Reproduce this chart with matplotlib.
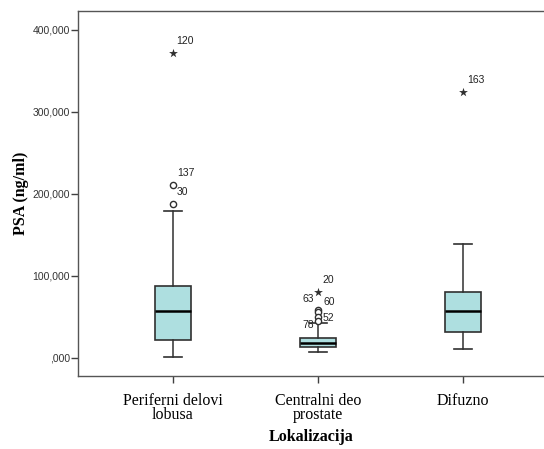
import numpy as np
import matplotlib
matplotlib.use("Agg")
import matplotlib.pyplot as plt
from matplotlib.ticker import FuncFormatter

# data (PSA, ng/ml)
categories = ["Periferni delovi\nlobusa", "Centralni deo\nprostate", "Difuzno"]
q1 = [21900, 13000, 31700]
median = [57200, 18600, 57200]
q3 = [87700, 24700, 80400]
whislo = [1000, 7000, 11000]
whishi = [179000, 43000, 138900]

# outliers: (group index, value, case number)
circle_grp = [0, 0, 1, 1, 1, 1]
circle_val = [187600, 210700, 58500, 55500, 49500, 45500]
circle_lbl = ["30", "137", "63", "60", "52", "78"]
star_grp = [0, 1, 2]
star_val = [371500, 80800, 324000]
star_lbl = ["120", "20", "163"]

yticks = [0, 100000, 200000, 300000, 400000]

# label offsets in points (style only)
circle_off = [(3, 5), (3, 5), (-11, 4), (4, 4), (3, -4), (-11, -7)]
star_off = [(2, 5), (3, 5), (3, 5)]


def fmt(v, p):
    if v == 0:
        return ",000"
    return "{:.0f},000".format(v / 1000)


fig = plt.figure(figsize=(5.44, 4.49), dpi=100)
ax = fig.add_axes([0.1434, 0.1626, 0.8566, 0.8129])

stats = []
for i in range(len(categories)):
    stats.append(dict(q1=q1[i], med=median[i], q3=q3[i],
                      whislo=whislo[i], whishi=whishi[i], fliers=[]))

pos = np.arange(1, len(categories) + 1)
ax.bxp(stats, positions=pos, widths=0.25, showfliers=False, patch_artist=True,
       boxprops=dict(facecolor="#aedfe0", edgecolor="#303030", linewidth=1.2),
       medianprops=dict(color="black", linewidth=1.8),
       whiskerprops=dict(color="#303030", linewidth=1.1),
       capprops=dict(color="#303030", linewidth=1.2),
       capwidths=0.13)

cx = pos[np.array(circle_grp)]
ax.scatter(cx, circle_val, s=20, facecolors="white", edgecolors="#303030",
           linewidths=1.0, zorder=3)
sx = pos[np.array(star_grp)]
ax.scatter(sx, star_val, marker="*", s=45, color="#303030", linewidths=0, zorder=3)

for x, y, t, o in zip(cx, circle_val, circle_lbl, circle_off):
    ax.annotate(t, (x, y), xytext=o, textcoords="offset points",
                fontsize=7.5, family="Liberation Sans", color="#222222",
                ha="left", va="bottom")
for x, y, t, o in zip(sx, star_val, star_lbl, star_off):
    ax.annotate(t, (x, y), xytext=o, textcoords="offset points",
                fontsize=7.5, family="Liberation Sans", color="#222222",
                ha="left", va="bottom")

ax.set_xlim(0.345, 3.559)
ax.set_ylim(-21950, 423170)
ax.set_yticks(yticks)
ax.yaxis.set_major_formatter(FuncFormatter(fmt))
ax.set_xticks(pos)
ax.set_xticklabels(categories, family="Liberation Serif", fontsize=11.5,
                   linespacing=0.9)
for lab in ax.get_yticklabels():
    lab.set_family("Liberation Sans")
    lab.set_fontsize(7.5)
    lab.set_color("#333333")

ax.tick_params(axis="both", direction="out", length=5, width=1, color="#404040")
ax.tick_params(axis="x", pad=7)
ax.tick_params(axis="y", pad=1)

ax.spines["right"].set_visible(False)
for s in ["left", "top", "bottom"]:
    ax.spines[s].set_color("#555555")
    ax.spines[s].set_linewidth(1.0)

ax.set_ylabel("PSA (ng/ml)", family="Liberation Serif", fontweight="bold",
              fontsize=11.5, labelpad=2)
ax.set_xlabel("Lokalizacija", family="Liberation Serif", fontweight="bold",
              fontsize=11.5, labelpad=4)

fig.savefig("out.png", dpi=100)
